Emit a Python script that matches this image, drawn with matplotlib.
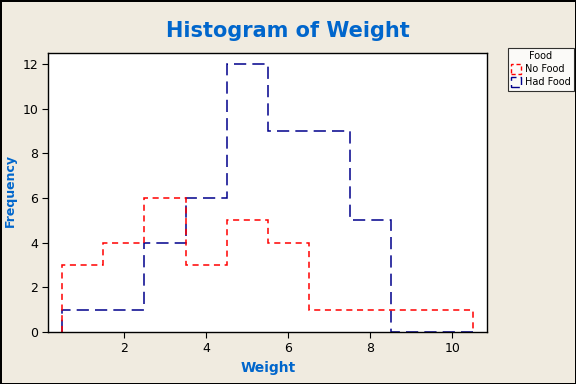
import matplotlib
matplotlib.use("Agg")
import matplotlib.pyplot as plt
from matplotlib.patches import Patch
import numpy as np

bin_edges = [0.5, 1.5, 2.5, 3.5, 4.5, 5.5, 6.5, 7.5, 8.5, 9.5, 10.5]
no_food = [3, 4, 6, 3, 5, 4, 1, 1, 1, 1]
had_food = [1, 1, 4, 6, 12, 9, 9, 5, 0, 0]
groups = ["No Food", "Had Food"]
xticks = [2, 4, 6, 8, 10]
yticks = [0, 2, 4, 6, 8, 10, 12]

bg = "#F0EBE0"
blue_text = "#0066CC"
red = "#FF0000"
navy = "#00008B"

fig = plt.figure(figsize=(5.76, 3.84), dpi=100, facecolor=bg)
fig.patch.set_edgecolor("black")
fig.patch.set_linewidth(2)
ax = fig.add_axes([0.0842, 0.1354, 0.7613, 0.7266])
ax.set_facecolor("white")

ax.stairs(had_food, bin_edges, baseline=0, color=navy, linewidth=1.1,
          linestyle=(0, (8, 4)))
ax.stairs(no_food, bin_edges, baseline=0, color=red, linewidth=1.1,
          linestyle=(0, (4, 3)))

ax.set_xlim(0.16, 10.85)
ax.set_ylim(0, 12.49)
ax.set_xticks(xticks)
ax.set_yticks(yticks)
ax.tick_params(labelsize=9, length=4, direction="out")
for s in ax.spines.values():
    s.set_linewidth(1)

ax.set_xlabel("Weight", color=blue_text, fontweight="bold", fontsize=10, labelpad=4)
fig.text(10 / 576, 1 - 190 / 384, "Frequency", color=blue_text, fontweight="bold",
         fontsize=9, rotation=90, ha="center", va="center")
fig.text(0.499, 0.919, "Histogram of Weight", color=blue_text, fontweight="bold",
         fontsize=15, ha="center", va="center")

handles = [Patch(facecolor="none", edgecolor=red, linestyle=(0, (3, 2)), label=groups[0]),
           Patch(facecolor="none", edgecolor=navy, linestyle=(0, (6, 3)), label=groups[1])]
leg = fig.legend(handles=handles, title="Food", loc="upper left",
                 bbox_to_anchor=(0.873, 0.888), fontsize=7, title_fontsize=7,
                 frameon=True, fancybox=False, edgecolor="black",
                 handlelength=1.0, handleheight=1.3, handletextpad=0.4,
                 borderpad=0.35, labelspacing=0.25)
leg.get_frame().set_linewidth(0.8)
leg.get_frame().set_facecolor("white")

fig.savefig("out.png", dpi=100, facecolor=bg, edgecolor="black")
